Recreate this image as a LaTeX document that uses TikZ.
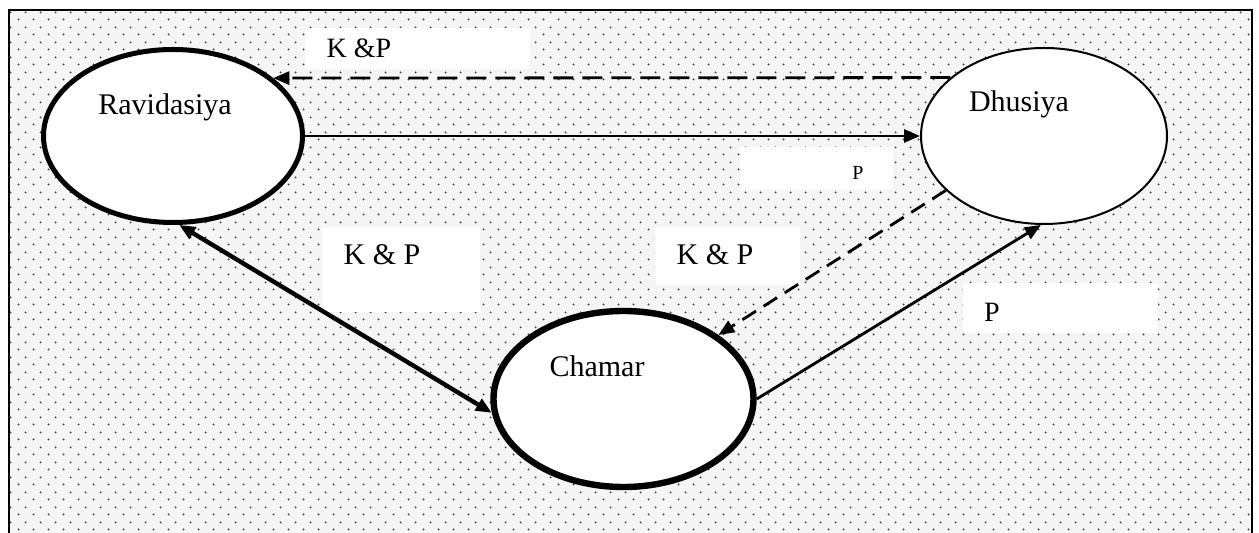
\documentclass[tikz,border=0pt]{standalone}
\usepackage{fontspec}
\setmainfont{Liberation Serif}
\usetikzlibrary{shapes.geometric,arrows.meta,patterns}
\pgfdeclarepatternformonly{mydots}{\pgfqpoint{0pt}{0pt}}{\pgfqpoint{7.5pt}{7.5pt}}{\pgfqpoint{7.5pt}{7.5pt}}{%
  \pgfpathcircle{\pgfqpoint{1.875pt}{1.875pt}}{0.55pt}%
  \pgfpathcircle{\pgfqpoint{5.625pt}{5.625pt}}{0.55pt}%
  \pgfusepath{fill}}
\begin{document}
\begin{tikzpicture}[x=0.5pt,y=-0.5pt,
  caste/.style={ellipse, draw=black, fill=white, inner sep=0pt},
  wbox/.style={rectangle, fill=white, draw=none, inner sep=0pt},
  lbl/.style={inner sep=0pt, anchor=base, font=\fontsize{15}{18}\selectfont},
  tip/.style={-{Triangle[length=8pt,width=6.5pt]}},
  dashline/.style={line width=1.4pt, dash pattern=on 10pt off 4.5pt},
  solidline/.style={line width=1.4pt}]
\useasboundingbox (0,0) rectangle (1259,533);
% background
\fill[black!4] (9,10) rectangle (1252,533);
\fill[pattern=mydots, pattern color=black!75] (9,10) rectangle (1252,533);
\draw[line width=1.2pt] (9,533) -- (9,10) -- (1252,10) -- (1252,533);

% white label boxes
\node[wbox, minimum width=112.5pt, minimum height=20.5pt] (b1) at (417.5,48.5) {};
\node[wbox, minimum width=76.5pt, minimum height=21.5pt] (b2) at (816.5,168.5) {};
\node[wbox, minimum width=79pt, minimum height=42.5pt] (b3) at (401,269.5) {};
\node[wbox, minimum width=72.5pt, minimum height=29pt] (b4) at (727.5,256) {};
\node[wbox, minimum width=97.5pt, minimum height=25pt] (b5) at (1060.5,308) {};

% ellipses
\node[caste, line width=2.5pt, minimum width=129.5pt, minimum height=86.5pt] (R) at (173,136) {};
\node[caste, line width=1pt, minimum width=123pt, minimum height=88pt] (D) at (1044,136) {};
\node[caste, line width=3.2pt, minimum width=130pt, minimum height=88pt] (C) at (623.5,399) {};

% texts
\node[lbl] (tR) at (165,115) {Ravidasiya};
\node[lbl] (tD) at (1019,112) {Dhusiya};
\node[lbl] (tC) at (597,377) {Chamar};
\node[lbl, font=\fontsize{14}{16}\selectfont] (t1) at (359,58) {K \&P};
\node[lbl, font=\fontsize{10}{12}\selectfont] (t2) at (858,180) {P};
\node[lbl] (t3) at (382,265) {K \& P};
\node[lbl] (t4) at (715,265) {K \& P};
\node[lbl, font=\fontsize{14}{16}\selectfont] (t5) at (992,322) {P};

% connectors
\draw[dashline, tip] (D.148) -- (R.30);
\draw[solidline, tip] (R.east) -- (D.west);
\draw[line width=2.2pt, {Triangle[length=8pt,width=6.5pt]}-{Triangle[length=8pt,width=6.5pt]}] (R.-86) -- (C.186);
\draw[dashline, dash pattern=on 8pt off 4.5pt, tip] (D.209) -- (C.34);
\draw[solidline, tip] (C.east) -- (D.-92);
\end{tikzpicture}
\end{document}
